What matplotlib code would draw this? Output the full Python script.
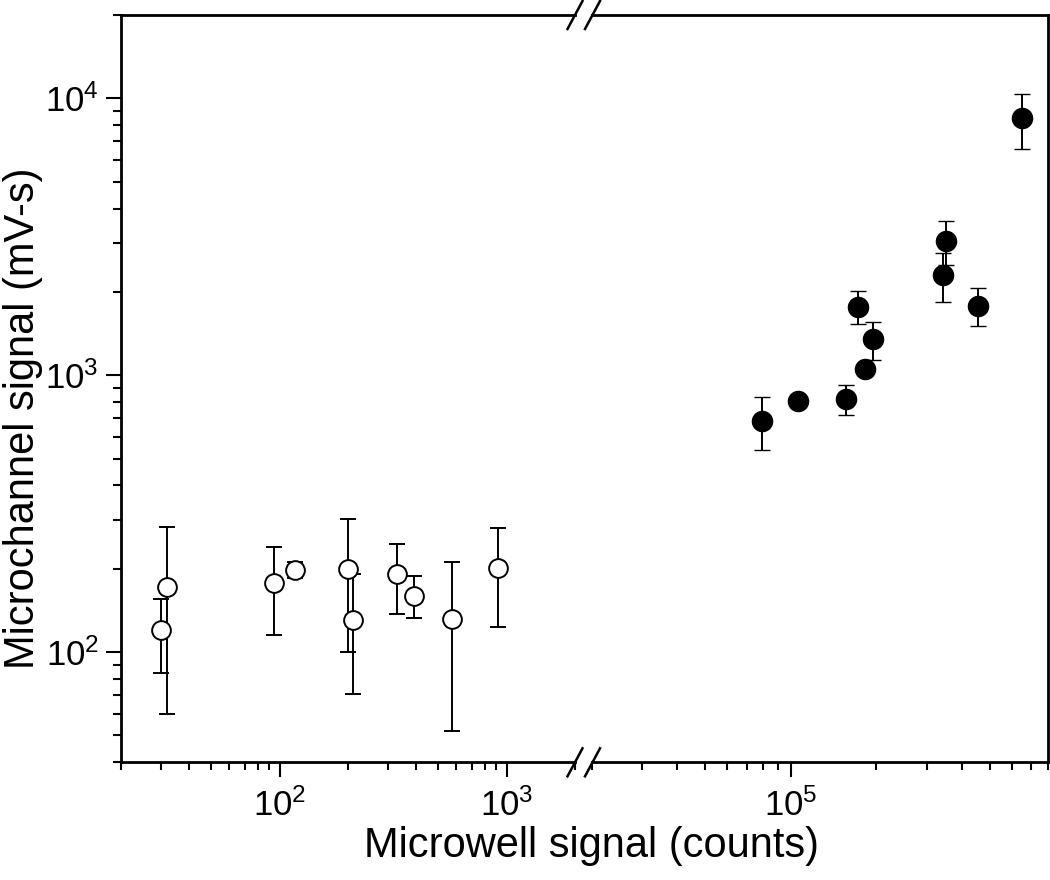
import matplotlib
matplotlib.use("Agg")
import matplotlib.pyplot as plt
from matplotlib.lines import Line2D
from matplotlib.ticker import LogLocator, NullFormatter, LogFormatterSciNotation
import numpy as np

plt.rcParams['font.family'] = ['Liberation Sans', 'DejaVu Sans']
plt.rcParams['mathtext.fontset'] = 'custom'
plt.rcParams['mathtext.rm'] = 'Liberation Sans'
plt.rcParams['mathtext.it'] = 'Liberation Sans:italic'
plt.rcParams['mathtext.bf'] = 'Liberation Sans:bold'

# ---- data ----
x_open = [30, 32, 94, 117, 200, 210, 328, 392, 572, 919]
y_open = [120, 172, 178, 198, 200, 131, 192, 160, 132, 202]
y_open_hi = [156, 284, 240, 212, 302, 191, 245, 188, 212, 280]
y_open_lo = [84, 60, 115, 185, 100, 70.5, 137, 133, 52, 123]

x_fill = [79.5e3, 106e3, 156e3, 183e3, 173e3, 194e3, 351e3, 343e3, 453e3, 651e3]
y_fill = [684, 805, 824, 1054, 1771, 1349, 3055, 2296, 1780, 8490]
y_fill_hi = [836, 805, 925, 1054, 2022, 1559, 3596, 2756, 2061, 10380]
y_fill_lo = [535, 805, 717, 1054, 1533, 1132, 2503, 1841, 1503, 6560]

xlim_left = (20, 2000)
xlim_right = (2e4, 8e5)
ylim = (40, 2e4)

W, H = 1050, 880
fig = plt.figure(figsize=(W / 100, H / 100), dpi=100)

def px(x0, x1, y0, y1):
    return [x0 / W, 1 - y1 / H, (x1 - x0) / W, (y1 - y0) / H]

top_px, bot_px = 15, 762.3
xl0, xl1 = 121, 575
xr0, xr1 = 591.5, 1048
axL = fig.add_axes(px(xl0, xl1, top_px, bot_px))
axR = fig.add_axes(px(xr0, xr1, top_px, bot_px), sharey=axL)

eb_kw = dict(fmt='o', ecolor='black', elinewidth=1.4, capsize=5.5, capthick=1.4)

def err(y, hi, lo):
    y = np.array(y, float)
    return [y - np.array(lo, float), np.array(hi, float) - y]

axL.errorbar(x_open, y_open, yerr=err(y_open, y_open_hi, y_open_lo),
             markersize=13.5, markerfacecolor='white', markeredgecolor='black',
             markeredgewidth=1.4, **eb_kw)
axR.errorbar(x_fill, y_fill, yerr=err(y_fill, y_fill_hi, y_fill_lo),
             markersize=14.5, markerfacecolor='black', markeredgecolor='black',
             markeredgewidth=1.0, **eb_kw)

for ax in (axL, axR):
    ax.set_xscale('log')
    ax.set_yscale('log')
    ax.xaxis.set_major_locator(LogLocator(base=10, numticks=20))
    ax.xaxis.set_minor_locator(LogLocator(base=10, subs=np.arange(2, 10), numticks=20))
    ax.xaxis.set_major_formatter(LogFormatterSciNotation())
    ax.xaxis.set_minor_formatter(NullFormatter())
    ax.tick_params(axis='both', which='major', direction='out', length=11, width=1.5,
                   labelsize=25, pad=8)
    ax.tick_params(axis='both', which='minor', direction='out', length=6, width=1.5)
    ax.tick_params(top=False, right=False, which='both')
    for s in ax.spines.values():
        s.set_linewidth(2.0)

axL.set_xlim(*xlim_left)
axR.set_xlim(*xlim_right)
axL.set_ylim(*ylim)
axL.yaxis.set_major_locator(LogLocator(base=10, numticks=20))
axL.yaxis.set_minor_locator(LogLocator(base=10, subs=np.arange(2, 10), numticks=20))
axL.yaxis.set_minor_formatter(NullFormatter())
axL.tick_params(axis='y', which='major', pad=5)

axL.spines['right'].set_visible(False)
axR.spines['left'].set_visible(False)
axR.tick_params(axis='y', which='both', left=False, labelleft=False)

# break marks
def slash(xc, yc):
    fig.add_artist(Line2D([(xc - 7.5) / W, (xc + 7.5) / W],
                          [1 - (yc + 14) / H, 1 - (yc - 14) / H],
                          color='black', lw=1.8, transform=fig.transFigure,
                          clip_on=False))

for yc in (top_px, bot_px):
    slash(xl1, yc)
    slash(xr0 + 1, yc)

fig.text(592 / W, 1 - 846 / H, 'Microwell signal (counts)', fontsize=30,
         ha='center', va='center')
fig.text(23 / W, 1 - 418 / H, 'Microchannel signal (mV-s)', fontsize=30,
         ha='center', va='center', rotation=90)

fig.savefig('out.png', dpi=100)
